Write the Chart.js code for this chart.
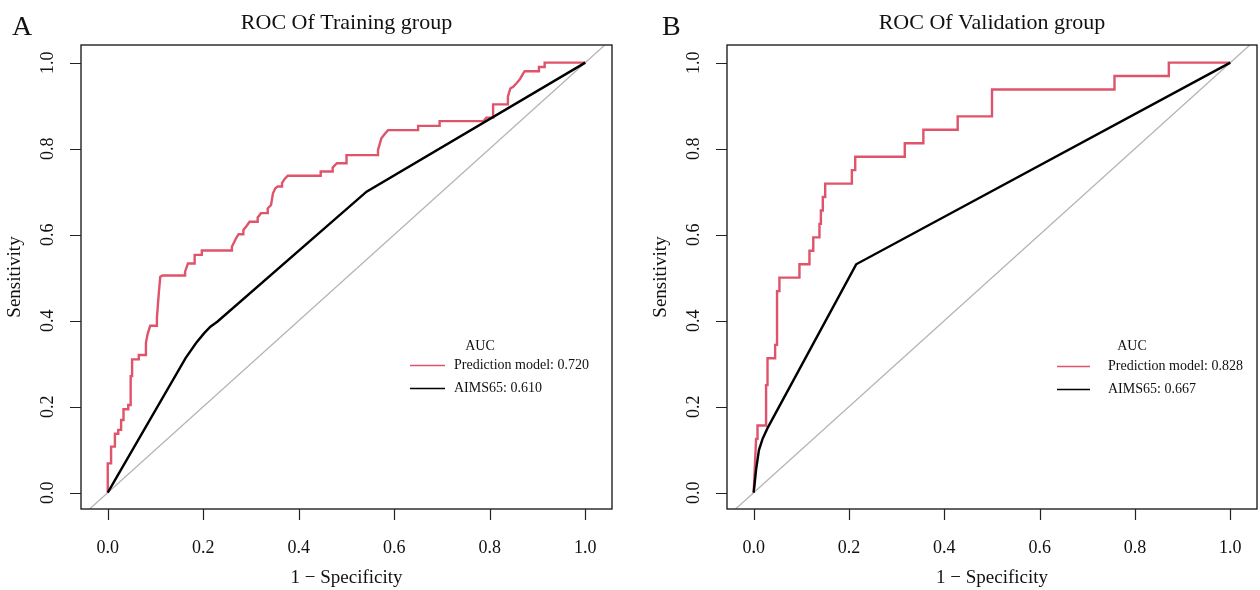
<!DOCTYPE html>
<html>
<head>
<meta charset="utf-8">
<title>ROC curves</title>
<script src="https://cdn.jsdelivr.net/npm/chart.js@4.4.1/dist/chart.umd.min.js"></script>
<style>
  html, body { margin: 0; padding: 0; background: #fff; }
  #wrap { position: relative; width: 1260px; height: 590px; }
  .panel { position: absolute; top: 0; width: 630px; height: 590px; }
</style>
</head>
<body>
<div id="wrap">
  <div class="panel" style="left:0"><canvas id="roc-train" width="630" height="590"></canvas></div>
  <div class="panel" style="left:630px"><canvas id="roc-valid" width="630" height="590"></canvas></div>
</div>
<script>
/* ── Data ── */
var xTicks = [0, 0.2, 0.4, 0.6, 0.8, 1.0];
var yTicks = [0, 0.2, 0.4, 0.6, 0.8, 1.0];
var diagonal = [-0.2, 1.2];

// Training group, prediction model (AUC 0.720)
var trainPredFpr = [0, 0, 0.007, 0.007, 0.015, 0.015, 0.022, 0.022, 0.028, 0.028,
  0.033, 0.033, 0.043, 0.043, 0.048, 0.048, 0.051, 0.051, 0.065, 0.065,
  0.080, 0.080, 0.084, 0.089, 0.103, 0.103, 0.107, 0.110, 0.115, 0.162,
  0.162, 0.168, 0.182, 0.182, 0.197, 0.197, 0.260, 0.260, 0.269, 0.274,
  0.284, 0.284, 0.290, 0.297, 0.314, 0.314, 0.321, 0.335, 0.335, 0.342,
  0.346, 0.351, 0.356, 0.365, 0.365, 0.370, 0.377, 0.446, 0.446, 0.471,
  0.471, 0.480, 0.500, 0.500, 0.566, 0.566, 0.573, 0.580, 0.587, 0.650,
  0.650, 0.695, 0.695, 0.787, 0.793, 0.807, 0.807, 0.838, 0.838, 0.843,
  0.849, 0.856, 0.863, 0.868, 0.873, 0.903, 0.903, 0.915, 0.915, 1.0];
var trainPredTpr = [0, 0.068, 0.068, 0.107, 0.107, 0.137, 0.137, 0.146, 0.146, 0.169,
  0.169, 0.194, 0.194, 0.204, 0.204, 0.271, 0.271, 0.310, 0.310, 0.320,
  0.320, 0.349, 0.371, 0.388, 0.388, 0.407, 0.465, 0.502, 0.505, 0.505,
  0.514, 0.533, 0.533, 0.553, 0.553, 0.563, 0.563, 0.572, 0.592, 0.601,
  0.601, 0.611, 0.619, 0.630, 0.630, 0.640, 0.650, 0.650, 0.661, 0.669,
  0.696, 0.708, 0.712, 0.712, 0.720, 0.729, 0.737, 0.737, 0.747, 0.747,
  0.756, 0.766, 0.766, 0.785, 0.785, 0.797, 0.824, 0.834, 0.843, 0.843,
  0.853, 0.853, 0.864, 0.864, 0.872, 0.872, 0.903, 0.903, 0.921, 0.940,
  0.944, 0.952, 0.961, 0.971, 0.980, 0.980, 0.990, 0.990, 1.0, 1.0];

// Training group, AIMS65 (AUC 0.610)
var trainAimsFpr = [0, 0.163, 0.185, 0.202, 0.215, 0.230, 0.542, 1.0];
var trainAimsTpr = [0, 0.313, 0.348, 0.371, 0.386, 0.398, 0.700, 1.0];

// Validation group, prediction model (AUC 0.828)
var validPredFpr = [0, 0.005, 0.008, 0.008, 0.026, 0.026, 0.029, 0.029, 0.045, 0.045,
  0.049, 0.049, 0.054, 0.054, 0.096, 0.096, 0.117, 0.117, 0.125, 0.125,
  0.138, 0.138, 0.141, 0.141, 0.145, 0.145, 0.150, 0.150, 0.206, 0.206,
  0.213, 0.213, 0.317, 0.317, 0.356, 0.356, 0.428, 0.428, 0.500, 0.500,
  0.757, 0.757, 0.871, 0.871, 1.0];
var validPredTpr = [0, 0.125, 0.125, 0.15625, 0.15625, 0.25, 0.25, 0.3125, 0.3125, 0.34375,
  0.34375, 0.46875, 0.46875, 0.5, 0.5, 0.53125, 0.53125, 0.5625, 0.5625, 0.59375,
  0.59375, 0.625, 0.625, 0.65625, 0.65625, 0.6875, 0.6875, 0.71875, 0.71875, 0.75,
  0.75, 0.78125, 0.78125, 0.8125, 0.8125, 0.84375, 0.84375, 0.875, 0.875, 0.9375,
  0.9375, 0.96875, 0.96875, 1.0, 1.0];

// Validation group, AIMS65 (AUC 0.667)
var validAimsFpr = [0, 0.005, 0.011, 0.019, 0.029, 0.215, 1.0];
var validAimsTpr = [0, 0.053, 0.099, 0.126, 0.150, 0.531, 1.0];

/* ── Helpers ── */
var SERIF = '"Liberation Serif", "Times New Roman", serif';
var RED = '#DF536B';

function toPoints(xs, ys) {
  return xs.map(function(x, i) { return { x: x, y: ys[i] }; });
}

/* ── Plugin: base-R style frame, ticks, titles and legend ── */
var rFrame = {
  id: 'rFrame',
  afterDraw: function(chart, args, o) {
    var ctx = chart.ctx, a = chart.chartArea;
    var xs = chart.scales.x, ys = chart.scales.y;
    var cx = (a.left + a.right) / 2, cy = (a.top + a.bottom) / 2;
    ctx.save();

    // box
    ctx.strokeStyle = '#222';
    ctx.lineWidth = 1.4;
    ctx.strokeRect(a.left, a.top, a.right - a.left, a.bottom - a.top);

    // tick marks
    ctx.lineWidth = 1.2;
    ctx.beginPath();
    xTicks.forEach(function(v) {
      var px = Math.round(xs.getPixelForValue(v)) + 0.5;
      ctx.moveTo(px, a.bottom);
      ctx.lineTo(px, a.bottom + 11);
    });
    yTicks.forEach(function(v) {
      var py = Math.round(ys.getPixelForValue(v)) + 0.5;
      ctx.moveTo(a.left, py);
      ctx.lineTo(a.left - 11, py);
    });
    ctx.stroke();

    // tick labels
    ctx.fillStyle = '#111';
    ctx.font = '18px ' + SERIF;
    ctx.textAlign = 'center';
    ctx.textBaseline = 'middle';
    xTicks.forEach(function(v) {
      ctx.fillText(v.toFixed(1), xs.getPixelForValue(v), a.bottom + 39);
    });
    yTicks.forEach(function(v) {
      ctx.save();
      ctx.translate(a.left - 33, ys.getPixelForValue(v));
      ctx.rotate(-Math.PI / 2);
      ctx.fillText(v.toFixed(1), 0, 0);
      ctx.restore();
    });

    // axis titles
    ctx.font = '19px ' + SERIF;
    ctx.fillText('1 \u2212 Specificity', cx, a.bottom + 69);
    ctx.save();
    ctx.translate(a.left - 66, cy);
    ctx.rotate(-Math.PI / 2);
    ctx.fillText('Sensitivity', 0, 0);
    ctx.restore();

    // main title and panel letter
    ctx.textBaseline = 'alphabetic';
    ctx.font = '22px ' + SERIF;
    ctx.fillText(o.title, cx, 29);
    ctx.textAlign = 'left';
    ctx.font = '28px ' + SERIF;
    ctx.fillText(o.letter, o.letterX, 35);

    // legend
    var L = o.legend;
    ctx.font = '14px ' + SERIF;
    ctx.textAlign = 'center';
    ctx.textBaseline = 'middle';
    ctx.fillText('AUC', L.aucX, L.y0);
    ctx.textAlign = 'left';
    ctx.fillText(L.labels[0], L.textX, L.y1);
    ctx.fillText(L.labels[1], L.textX, L.y2);
    ctx.lineWidth = 1.3;
    ctx.strokeStyle = RED;
    ctx.beginPath(); ctx.moveTo(L.x0, L.y1 + 0.5); ctx.lineTo(L.x1, L.y1 + 0.5); ctx.stroke();
    ctx.strokeStyle = '#000';
    ctx.beginPath(); ctx.moveTo(L.x0, L.y2 + 0.5); ctx.lineTo(L.x1, L.y2 + 0.5); ctx.stroke();

    ctx.restore();
  }
};

/* ── Chart builder ── */
function rocChart(id, pred, aims, padLeft, padRight, plug) {
  return new Chart(document.getElementById(id), {
    type: 'scatter',
    data: {
      datasets: [
        { data: toPoints(aims[0], aims[1]), showLine: true, borderColor: '#000',
          borderWidth: 2.4, pointRadius: 0, order: 1 },
        { data: toPoints(pred[0], pred[1]), showLine: true, borderColor: RED,
          borderWidth: 2.4, pointRadius: 0, order: 2 },
        { data: toPoints(diagonal, diagonal), showLine: true, borderColor: '#B4B4B4',
          borderWidth: 1.3, pointRadius: 0, order: 3 }
      ]
    },
    options: {
      responsive: false,
      animation: false,
      events: [],
      layout: { padding: { left: padLeft, right: padRight, top: 45, bottom: 81 } },
      plugins: { legend: { display: false }, tooltip: { enabled: false }, rFrame: plug },
      scales: {
        x: { type: 'linear', display: false, min: -0.056, max: 1.056 },
        y: { type: 'linear', display: false, min: -0.038, max: 1.041 }
      }
    },
    plugins: [rFrame]
  });
}

/* ── Draw both panels ── */
rocChart('roc-train', [trainPredFpr, trainPredTpr], [trainAimsFpr, trainAimsTpr], 81, 18, {
  title: 'ROC Of Training group', letter: 'A', letterX: 12,
  legend: { x0: 410, x1: 445, textX: 454, aucX: 480, y0: 346, y1: 365, y2: 388,
    labels: ['Prediction model: 0.720', 'AIMS65: 0.610'] }
});
rocChart('roc-valid', [validPredFpr, validPredTpr], [validAimsFpr, validAimsTpr], 97, 3, {
  title: 'ROC Of Validation group', letter: 'B', letterX: 32,
  legend: { x0: 427, x1: 460, textX: 478, aucX: 502, y0: 346, y1: 366, y2: 389,
    labels: ['Prediction model: 0.828', 'AIMS65: 0.667'] }
});
</script>
</body>
</html>
